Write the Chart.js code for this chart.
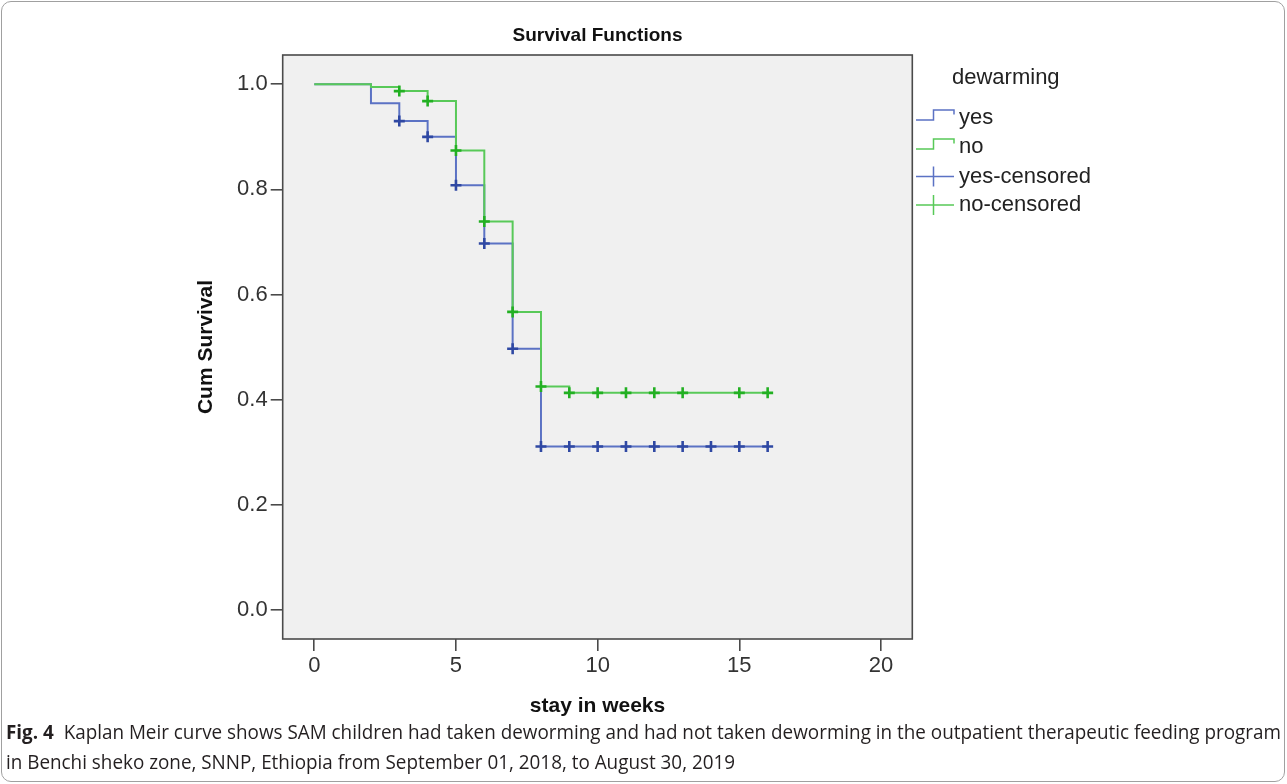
<!DOCTYPE html>
<html><head><meta charset="utf-8">
<script src="https://cdn.jsdelivr.net/npm/chart.js@4.4.1/dist/chart.umd.min.js"></script>
<style>
html,body{margin:0;padding:0;background:#fff;}
#wrap{position:relative;width:1287px;height:784px;overflow:hidden;background:#fff;}
#frame{position:absolute;left:1px;top:1px;width:1284px;height:781px;border:1px solid #a0a0a0;border-radius:10px;box-sizing:border-box;pointer-events:none;}
canvas{position:absolute;left:0;top:0;}
.cap{position:absolute;left:6px;white-space:nowrap;font-family:"Open Sans",sans-serif;font-size:20px;color:#231f20;transform-origin:0 50%;line-height:24px;}
.cap b{font-weight:700;}
</style></head><body>
<div id="wrap">
<canvas id="c" width="1287" height="784"></canvas>
<div id="frame"></div>
<div class="cap" id="cap1" style="top:720px"><b>Fig. 4</b>&nbsp; Kaplan Meir curve shows SAM children had taken deworming and had not taken deworming in the outpatient therapeutic feeding program</div>
<div class="cap" id="cap2" style="top:750px">in Benchi sheko zone, SNNP, Ethiopia from September 01, 2018, to August 30, 2019</div>
</div>
<script>
// ---- data ----
const legendTitle = 'dewarming';
const seriesLabels = ['yes', 'no', 'yes-censored', 'no-censored'];
const yesWeeks = [0, 2, 3, 4, 5, 6, 7, 8, 16];
const yesSurv  = [1.000, 0.964, 0.930, 0.900, 0.808, 0.697, 0.497, 0.311, 0.311];
const noWeeks  = [0, 2, 3, 4, 5, 6, 7, 8, 9, 16];
const noSurv   = [1.000, 0.995, 0.987, 0.968, 0.874, 0.739, 0.567, 0.425, 0.413, 0.413];
const yesCensWeeks = [3, 4, 5, 6, 7, 8, 9, 10, 11, 12, 13, 14, 15, 16];
const yesCensSurv  = [0.930, 0.900, 0.808, 0.697, 0.497, 0.311, 0.311, 0.311, 0.311, 0.311, 0.311, 0.311, 0.311, 0.311];
const noCensWeeks  = [3, 4, 5, 6, 7, 8, 9, 10, 11, 12, 13, 15, 16];
const noCensSurv   = [0.987, 0.968, 0.874, 0.739, 0.567, 0.425, 0.413, 0.413, 0.413, 0.413, 0.413, 0.413, 0.413];
const xTicks = [0, 5, 10, 15, 20];
const yTicks = [0.0, 0.2, 0.4, 0.6, 0.8, 1.0];

const pts = (xs, ys) => xs.map((x, i) => ({x: x, y: ys[i]}));
const BLUE_LINE = '#5b72c4', BLUE_MARK = '#2f48a3';
const GREEN_LINE = '#58c958', GREEN_MARK = '#22b022';
const FONT = 'Liberation Sans';

const frameBox = {
  id: 'frameBox',
  beforeDatasetsDraw(chart) {
    const a = chart.chartArea, ctx = chart.ctx;
    ctx.save();
    ctx.fillStyle = '#f0f0f0';
    ctx.fillRect(a.left, a.top, a.right - a.left, a.bottom - a.top);
    ctx.restore();
  },
  afterDraw(chart) {
    const a = chart.chartArea, ctx = chart.ctx;
    ctx.save();
    ctx.strokeStyle = '#4a4a4a';
    ctx.lineWidth = 1.6;
    ctx.strokeRect(a.left, a.top, a.right - a.left, a.bottom - a.top);
    ctx.restore();
  }
};

const sideLegend = {
  id: 'sideLegend',
  afterDraw(chart) {
    const ctx = chart.ctx;
    ctx.save();
    ctx.font = '22px "' + FONT + '"';
    ctx.fillStyle = '#222';
    ctx.textBaseline = 'middle';
    ctx.textAlign = 'left';
    ctx.fillText(legendTitle, 952, 78);
    const rows = [118, 147, 176.5, 205];
    chart.data.datasets.forEach((ds, i) => {
      const c = rows[i];
      ctx.strokeStyle = ds.legendColor;
      ctx.lineWidth = 1.5;
      ctx.beginPath();
      if (ds.type === 'line') {
        ctx.moveTo(916, c + 2);
        ctx.lineTo(933.5, c + 2);
        ctx.lineTo(933.5, c - 8);
        ctx.lineTo(954, c - 8);
        ctx.lineTo(954, c - 3.5);
      } else {
        ctx.moveTo(916, c);
        ctx.lineTo(954, c);
        ctx.moveTo(933.5, c - 10);
        ctx.lineTo(933.5, c + 10);
      }
      ctx.stroke();
      ctx.fillStyle = '#222';
      ctx.fillText(ds.label, 959, c);
    });
    ctx.restore();
  }
};

new Chart(document.getElementById('c'), {
  data: {
    datasets: [
      {type: 'line', label: seriesLabels[0], data: pts(yesWeeks, yesSurv), stepped: true,
       borderColor: BLUE_LINE, borderWidth: 2, pointRadius: 0, fill: false, legendColor: '#5b72c4', order: 3},
      {type: 'line', label: seriesLabels[1], data: pts(noWeeks, noSurv), stepped: true,
       borderColor: GREEN_LINE, borderWidth: 2, pointRadius: 0, fill: false, legendColor: '#58c958', order: 2},
      {type: 'scatter', label: seriesLabels[2], data: pts(yesCensWeeks, yesCensSurv), showLine: false,
       pointStyle: 'cross', pointRadius: 5.5, pointBorderWidth: 2.6, borderColor: BLUE_MARK, pointBorderColor: BLUE_MARK,
       legendColor: '#5b72c4', order: 1},
      {type: 'scatter', label: seriesLabels[3], data: pts(noCensWeeks, noCensSurv), showLine: false,
       pointStyle: 'cross', pointRadius: 5.5, pointBorderWidth: 2.6, borderColor: GREEN_MARK, pointBorderColor: GREEN_MARK,
       legendColor: '#58c958', order: 0}
    ]
  },
  options: {
    responsive: false,
    animation: false,
    devicePixelRatio: 1,
    layout: {padding: {left: 0, right: 374.7, top: 0, bottom: 0}},
    plugins: {
      legend: {display: false},
      tooltip: {enabled: false},
      title: {
        display: true, text: 'Survival Functions', fullSize: false,
        font: {family: FONT, size: 19, weight: 'bold', lineHeight: 1.2},
        color: '#111', padding: {top: 24.6, bottom: 7.6}
      }
    },
    scales: {
      x: {
        type: 'linear', min: -1.115, max: 21.105,
        afterBuildTicks: s => { s.ticks = xTicks.map(v => ({value: v})); },
        afterFit: s => { s.height = 145; },
        grid: {drawOnChartArea: false, drawTicks: true, tickLength: 12, color: '#4a4a4a', lineWidth: 1.6},
        border: {display: false},
        ticks: {font: {family: FONT, size: 22}, color: '#333', padding: 2, maxRotation: 0,
                callback: v => String(v)},
        title: {display: true, text: 'stay in weeks', color: '#111',
                font: {family: FONT, size: 21, weight: 'bold', lineHeight: 1.2},
                padding: {top: 0, bottom: 65.4}}
      },
      y: {
        type: 'linear', min: -0.0552, max: 1.0557,
        afterBuildTicks: s => { s.ticks = yTicks.map(v => ({value: v})); },
        afterFit: s => { s.width = 282.7; },
        grid: {drawOnChartArea: false, drawTicks: true, tickLength: 12, color: '#4a4a4a', lineWidth: 1.6},
        border: {display: false},
        ticks: {font: {family: FONT, size: 22}, color: '#333', padding: 3,
                callback: v => Number(v).toFixed(1)},
        title: {display: true, text: 'Cum Survival', color: '#111',
                font: {family: FONT, size: 21, weight: 'bold', lineHeight: 1.2},
                padding: {top: 194, bottom: 0}}
      }
    }
  },
  plugins: [frameBox, sideLegend]
});

function fitCaption() {
  const c1 = document.getElementById('cap1'), c2 = document.getElementById('cap2');
  c1.style.transform = 'none'; c2.style.transform = 'none';
  const w = c1.scrollWidth;
  const k = 1275 / w;
  c1.style.transform = 'scaleX(' + k + ')';
  c2.style.transform = 'scaleX(' + k + ')';
}
fitCaption();
if (document.fonts && document.fonts.ready) document.fonts.ready.then(fitCaption);
</script>
</body></html>
